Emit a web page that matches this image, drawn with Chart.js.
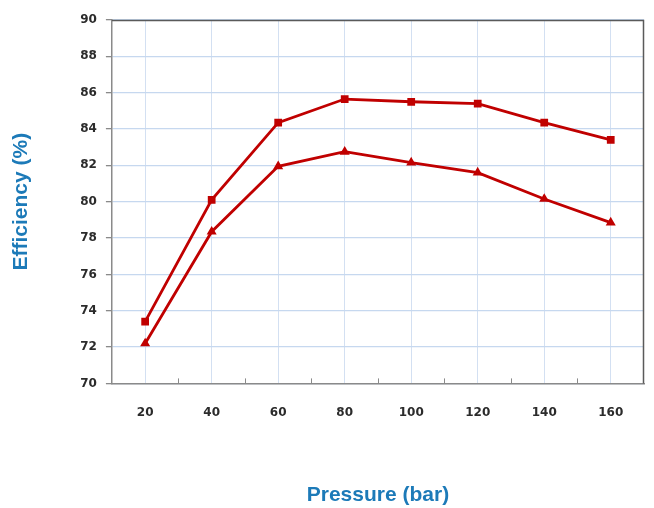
<!DOCTYPE html>
<html>
<head>
<meta charset="utf-8">
<script src="https://cdn.jsdelivr.net/npm/chart.js@4/dist/chart.umd.min.js"></script>
<style>
  html, body { margin: 0; padding: 0; background: #fff; }
  #wrap { width: 654px; height: 508px; }
</style>
</head>
<body>
<div id="wrap"><canvas id="grafico"></canvas></div>
<script>
const presiones = ["20", "40", "60", "80", "100", "120", "140", "160"];
const serieSuperior = [73.4, 80.1, 84.35, 85.65, 85.5, 85.4, 84.35, 83.4];
const serieInferior = [72.2, 78.35, 81.95, 82.75, 82.15, 81.6, 80.15, 78.85];
const yMin = 70, yMax = 90, yPaso = 2;

const rojo = "#c00000";
const azulTitulo = "#1c7ab8";

// marco superior/derecho y marcas menores del eje x (entre categorias)
const marco = {
  id: "marco",
  afterDraw(chart) {
    const { ctx, chartArea: a, scales: { x } } = chart;
    ctx.save();
    ctx.strokeStyle = "#5a5a5a";
    ctx.lineWidth = 1.5;
    ctx.beginPath();
    ctx.moveTo(a.left, a.top + 0.5);
    ctx.lineTo(a.right - 0.5, a.top + 0.5);
    ctx.lineTo(a.right - 0.5, a.bottom);
    ctx.stroke();

    ctx.strokeStyle = "#8a8a8a";
    ctx.lineWidth = 1;
    ctx.beginPath();
    for (let i = 0; i < presiones.length - 1; i++) {
      const px = Math.round((x.getPixelForTick(i) + x.getPixelForTick(i + 1)) / 2) + 0.5;
      ctx.moveTo(px, a.bottom);
      ctx.lineTo(px, a.bottom - 5);
    }
    ctx.stroke();
    ctx.restore();
  }
};

new Chart(document.getElementById("grafico").getContext("2d"), {
  type: "line",
  data: {
    labels: presiones,
    datasets: [
      {
        data: serieSuperior,
        borderColor: rojo,
        backgroundColor: rojo,
        borderWidth: 2.8,
        pointStyle: "rect",
        pointRadius: 3.5,
        pointHoverRadius: 3.5,
        tension: 0
      },
      {
        data: serieInferior,
        borderColor: rojo,
        backgroundColor: rojo,
        borderWidth: 2.8,
        pointStyle: "triangle",
        pointRadius: 3,
        pointHoverRadius: 3,
        tension: 0
      }
    ]
  },
  options: {
    responsive: true,
    maintainAspectRatio: false,
    animation: false,
    layout: { padding: { top: 20, right: 10, left: 0, bottom: 0 } },
    plugins: {
      legend: { display: false },
      tooltip: { enabled: false }
    },
    scales: {
      x: {
        offset: true,
        grid: {
          offset: false,
          color: "#d3e0f2",
          lineWidth: 1,
          drawTicks: false
        },
        border: { color: "#8a8a8a", width: 1.5 },
        ticks: {
          color: "#2b2b2b",
          padding: 22,
          maxRotation: 0,
          font: { family: "DejaVu Sans", size: 12, weight: "bold" }
        },
        title: {
          display: true,
          text: "Pressure (bar)",
          color: azulTitulo,
          padding: { top: 41, bottom: 0 },
          font: { family: "Liberation Sans", size: 21, weight: "bold" }
        }
      },
      y: {
        min: yMin,
        max: yMax,
        grid: {
          color: "#c6d8ef",
          lineWidth: 1.3,
          tickColor: "#8a8a8a",
          tickLength: 6
        },
        border: { color: "#8a8a8a", width: 1.5 },
        ticks: {
          stepSize: yPaso,
          color: "#2b2b2b",
          padding: 9,
          font: { family: "DejaVu Sans", size: 12, weight: "bold" }
        },
        title: {
          display: true,
          text: "Efficiency (%)",
          color: azulTitulo,
          padding: { top: 9, bottom: 37 },
          font: { family: "Liberation Sans", size: 21, weight: "bold" }
        }
      }
    }
  },
  plugins: [marco]
});
</script>
</body>
</html>
